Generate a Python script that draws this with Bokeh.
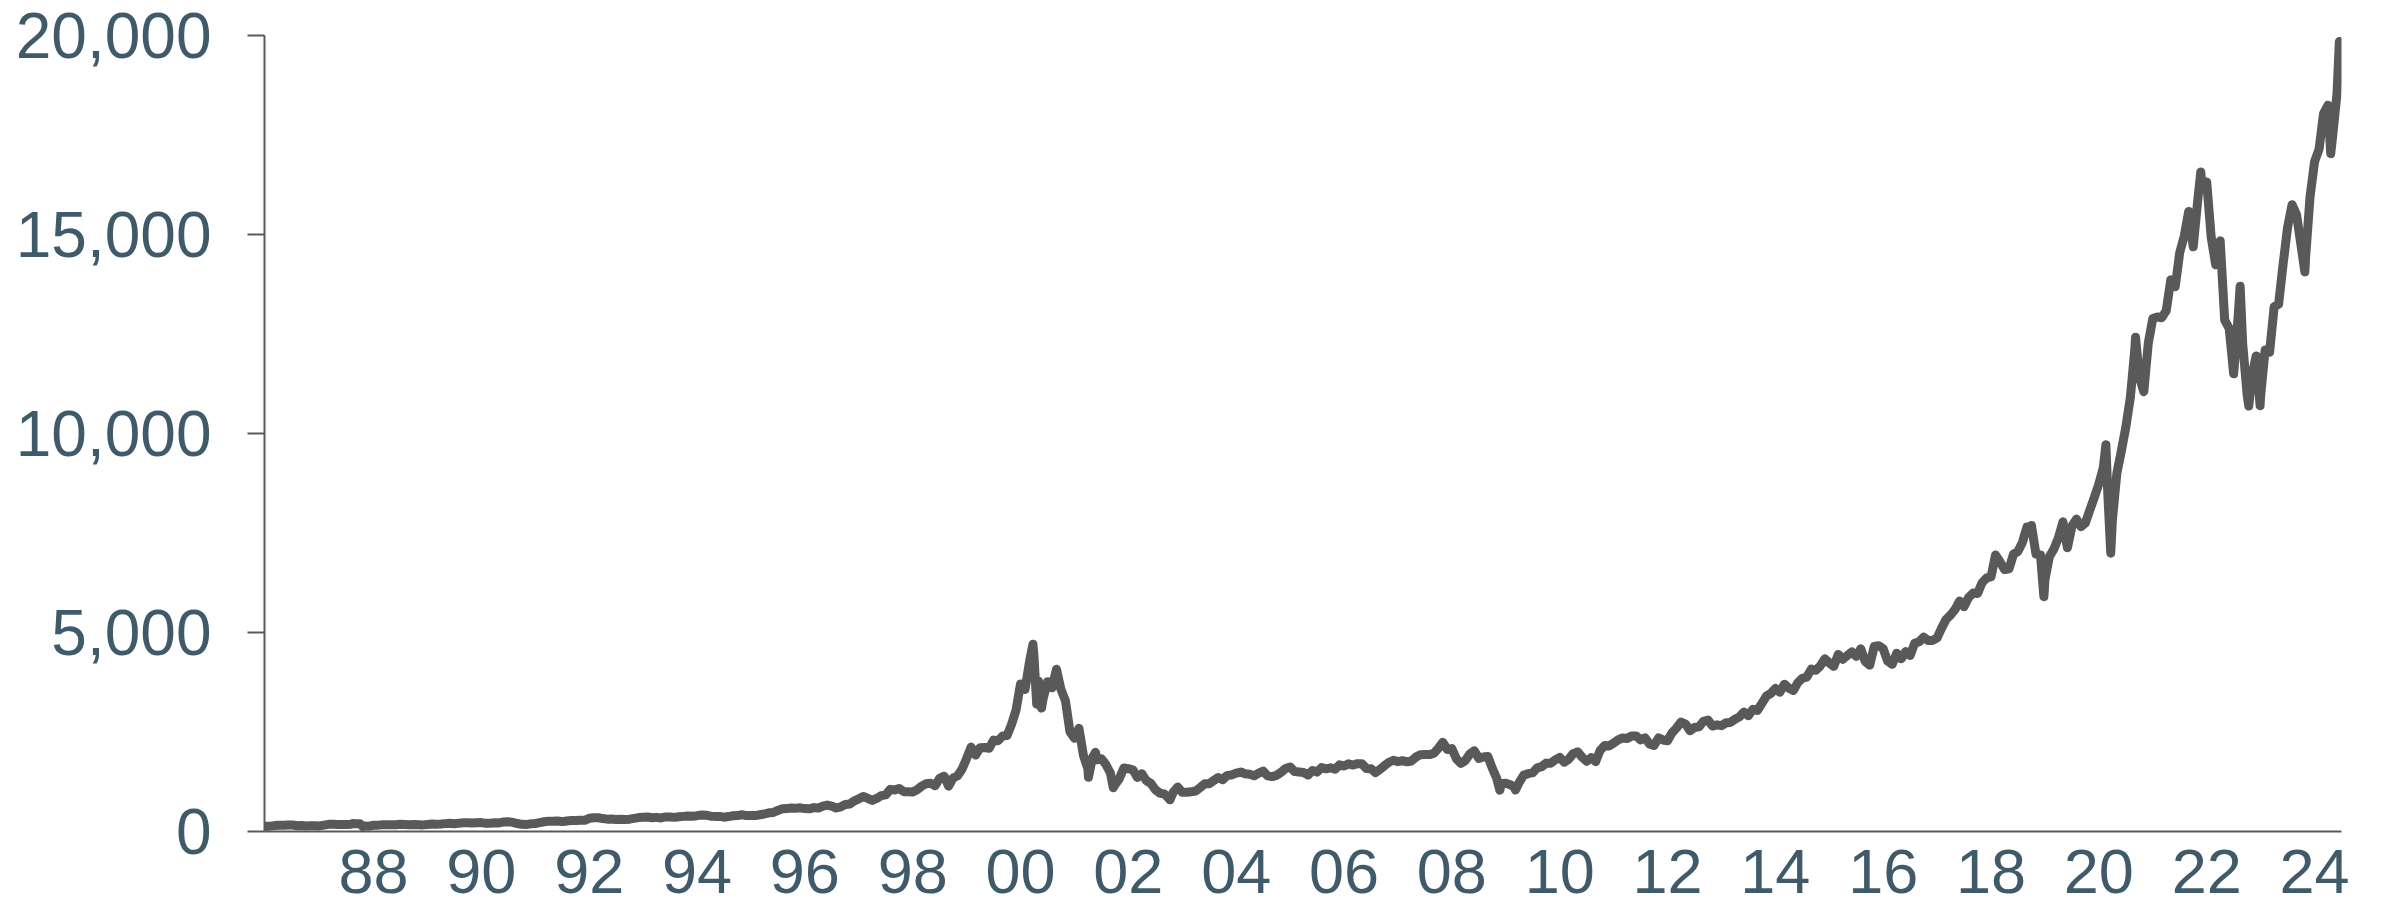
from bokeh.plotting import figure
from bokeh.models import Range1d, FixedTicker, NumeralTickFormatter
from bokeh.embed import file_html
from bokeh.resources import INLINE

# ---- data: index level, month-end closes ----
start_x = [1986.0]
start_v = [132]
y1986 = [135, 148, 155, 158, 165, 163, 145, 152, 138, 146, 146, 141]
y1987 = [160, 180, 180, 176, 175, 178, 185, 195, 192, 140, 135, 156]
y1988 = [160, 172, 170, 172, 168, 182, 176, 168, 175, 172, 166, 177]
y1989 = [188, 185, 188, 198, 207, 196, 210, 218, 220, 212, 218, 224]
y1990 = [205, 210, 217, 215, 240, 245, 230, 200, 180, 175, 192, 200]
y1991 = [222, 245, 260, 258, 265, 248, 265, 275, 275, 285, 280, 331]
y1992 = [345, 345, 325, 310, 312, 300, 310, 300, 310, 330, 350, 360]
y1993 = [365, 345, 355, 340, 365, 365, 355, 370, 380, 390, 385, 398]
y1994 = [415, 410, 385, 380, 380, 360, 375, 395, 400, 420, 400, 404]
y1995 = [400, 420, 440, 470, 480, 530, 570, 575, 590, 585, 595, 576]
y1996 = [570, 600, 590, 640, 665, 640, 590, 620, 680, 690, 770, 821]
y1997 = [880, 830, 780, 830, 900, 920, 1060, 1040, 1080, 1000, 1000, 991]
y1998 = [1050, 1140, 1200, 1215, 1150, 1337, 1390, 1140, 1345, 1400, 1570, 1836]
y1999 = [2120, 1920, 2106, 2110, 2090, 2296, 2280, 2400, 2410, 2690, 3050, 3708]
y2000 = [3570, 4267, 4398, 3774, 3324, 3764, 3610, 4077, 3570, 3283, 2507, 2342]
y2001 = [2593, 1908, 1573, 1855, 1800, 1830, 1683, 1470, 1168, 1329, 1596, 1577]
y2002 = [1550, 1359, 1452, 1277, 1208, 1051, 963, 942, 832, 989, 1116, 984]
y2003 = [985, 1000, 1018, 1106, 1200, 1201, 1280, 1358, 1303, 1410, 1421, 1468]
y2004 = [1494, 1450, 1438, 1400, 1466, 1516, 1400, 1380, 1412, 1490, 1583, 1621]
y2005 = [1505, 1495, 1483, 1420, 1534, 1493, 1606, 1575, 1601, 1563, 1675, 1645]
y2006 = [1700, 1670, 1704, 1700, 1580, 1575, 1480, 1560, 1654, 1740, 1790, 1757]
y2007 = [1780, 1750, 1772, 1870, 1930, 1934, 1932, 1966, 2091, 2238, 2059, 2085]
y2008 = [1827, 1712, 1781, 1950, 2029, 1837, 1872, 1885, 1589, 1330, 1208, 1212]
y2009 = [1175, 1110, 1237, 1417, 1454, 1477, 1600, 1632, 1718, 1715, 1800, 1860]
y2010 = [1742, 1817, 1957, 2000, 1866, 1765, 1855, 1755, 2037, 2163, 2150, 2218]
y2011 = [2300, 2350, 2338, 2400, 2400, 2300, 2350, 2200, 2160, 2350, 2300, 2278]
y2012 = [2480, 2600, 2750, 2700, 2530, 2615, 2630, 2770, 2800, 2650, 2680, 2660]
y2013 = [2730, 2740, 2820, 2880, 3000, 2910, 3070, 3040, 3220, 3400, 3470, 3592]
y2014 = [3500, 3700, 3600, 3540, 3740, 3850, 3880, 4080, 4050, 4160, 4340, 4236]
y2015 = [4150, 4450, 4330, 4420, 4510, 4400, 4590, 4270, 4180, 4650, 4670, 4593]
y2016 = [4280, 4200, 4480, 4340, 4520, 4420, 4730, 4770, 4880, 4800, 4800, 4864]
y2017 = [5110, 5330, 5440, 5580, 5790, 5650, 5880, 5990, 5980, 6250, 6370, 6396]
y2018 = [6950, 6780, 6580, 6600, 6970, 7040, 7270, 7650, 7630, 6970, 6950, 6330]
y2019 = [6910, 7100, 7380, 7780, 7130, 7670, 7850, 7660, 7750, 8080, 8400, 8733]
y2020 = [9150, 8460, 7810, 9000, 9560, 10160, 10900, 12110, 11420, 11050, 12270, 12888]
y2021 = [12925, 12910, 13090, 13860, 13690, 14550, 14960, 15580, 14690, 15850, 16140, 16320]
y2022 = [14930, 14240, 14840, 12850, 12640, 11500, 12950, 12270, 10970, 11400, 11950, 10940]
y2023 = [12100, 12040, 13180, 13250, 14250, 15180, 15750, 15500, 14720, 14410, 15950, 16826]
y2024 = [17140, 18040, 18250, 17440, 18540]

# intra-month extremes (decimal year, level)
extreme_x = [1987.62, 1987.80, 2000.23, 2000.30, 2000.39, 2001.26, 2001.39, 2001.72,
             2002.77, 2007.83, 2008.89, 2009.18, 2018.75, 2018.98, 2020.13, 2020.22,
             2020.68, 2021.89, 2022.62, 2022.78, 2022.99, 2023.82, 2024.30, 2024.46]
extreme_v = [200, 125, 4704, 3200, 3100, 1360, 1990, 1100,
             795, 2239, 1036, 1043, 7690, 5900, 9718, 6994,
             12420, 16573, 13700, 10690, 10700, 14060, 17030, 19850]

tick_years = list(range(1988, 2025, 2))
tick_labels = ["88", "90", "92", "94", "96", "98", "00", "02", "04", "06",
               "08", "10", "12", "14", "16", "18", "20", "22", "24"]
y_ticks = [0, 5000, 10000, 15000, 20000]

# ---- build series ----
yearly = [y1986, y1987, y1988, y1989, y1990, y1991, y1992, y1993, y1994, y1995,
          y1996, y1997, y1998, y1999, y2000, y2001, y2002, y2003, y2004, y2005,
          y2006, y2007, y2008, y2009, y2010, y2011, y2012, y2013, y2014, y2015,
          y2016, y2017, y2018, y2019, y2020, y2021, y2022, y2023, y2024]
pts = list(zip(start_x, start_v))
for i, vals in enumerate(yearly):
    yr = 1986 + i
    for m, v in enumerate(vals):
        pts.append((yr + (m + 1) / 12.0, v))
pts += list(zip(extreme_x, extreme_v))
pts.sort(key=lambda t: t[0])
xs = [t[0] for t in pts]
vs = [t[1] for t in pts]

LABEL = "#3F5A69"
LINE = "#595959"

p = figure(frame_width=2077, frame_height=796,
           x_range=Range1d(1985.978, 2024.50), y_range=Range1d(0, 20000),
           output_backend="svg", toolbar_location=None,
           min_border_left=264, min_border_right=32, min_border_top=35, min_border_bottom=87)
p.background_fill_color = "white"
p.border_fill_color = "white"
p.outline_line_color = None
p.xgrid.visible = False
p.ygrid.visible = False

p.line(xs, vs, line_color=LINE, line_width=9, line_join="round", line_cap="round")

xa = p.xaxis[0]
xa.ticker = FixedTicker(ticks=tick_years)
xa.major_label_overrides = {t: l for t, l in zip(tick_years, tick_labels)}
xa.major_tick_out = 0
xa.major_tick_in = 0
xa.minor_tick_out = 0
xa.minor_tick_in = 0
xa.axis_line_color = LINE
xa.axis_line_width = 2
xa.major_label_text_font = "Liberation Sans"
xa.major_label_text_font_size = "63px"
xa.major_label_text_color = LABEL
xa.major_label_standoff = 18

ya = p.yaxis[0]
ya.ticker = FixedTicker(ticks=y_ticks)
ya.formatter = NumeralTickFormatter(format="0,0")
ya.major_tick_out = 17
ya.major_tick_in = 0
ya.minor_tick_out = 0
ya.minor_tick_in = 0
ya.major_tick_line_color = LINE
ya.major_tick_line_width = 2
ya.axis_line_color = LINE
ya.axis_line_width = 2
ya.major_label_text_font = "Liberation Sans"
ya.major_label_text_font_size = "64px"
ya.major_label_text_color = LABEL
ya.major_label_standoff = 36

open("out.html", "w").write(file_html(p, INLINE))
